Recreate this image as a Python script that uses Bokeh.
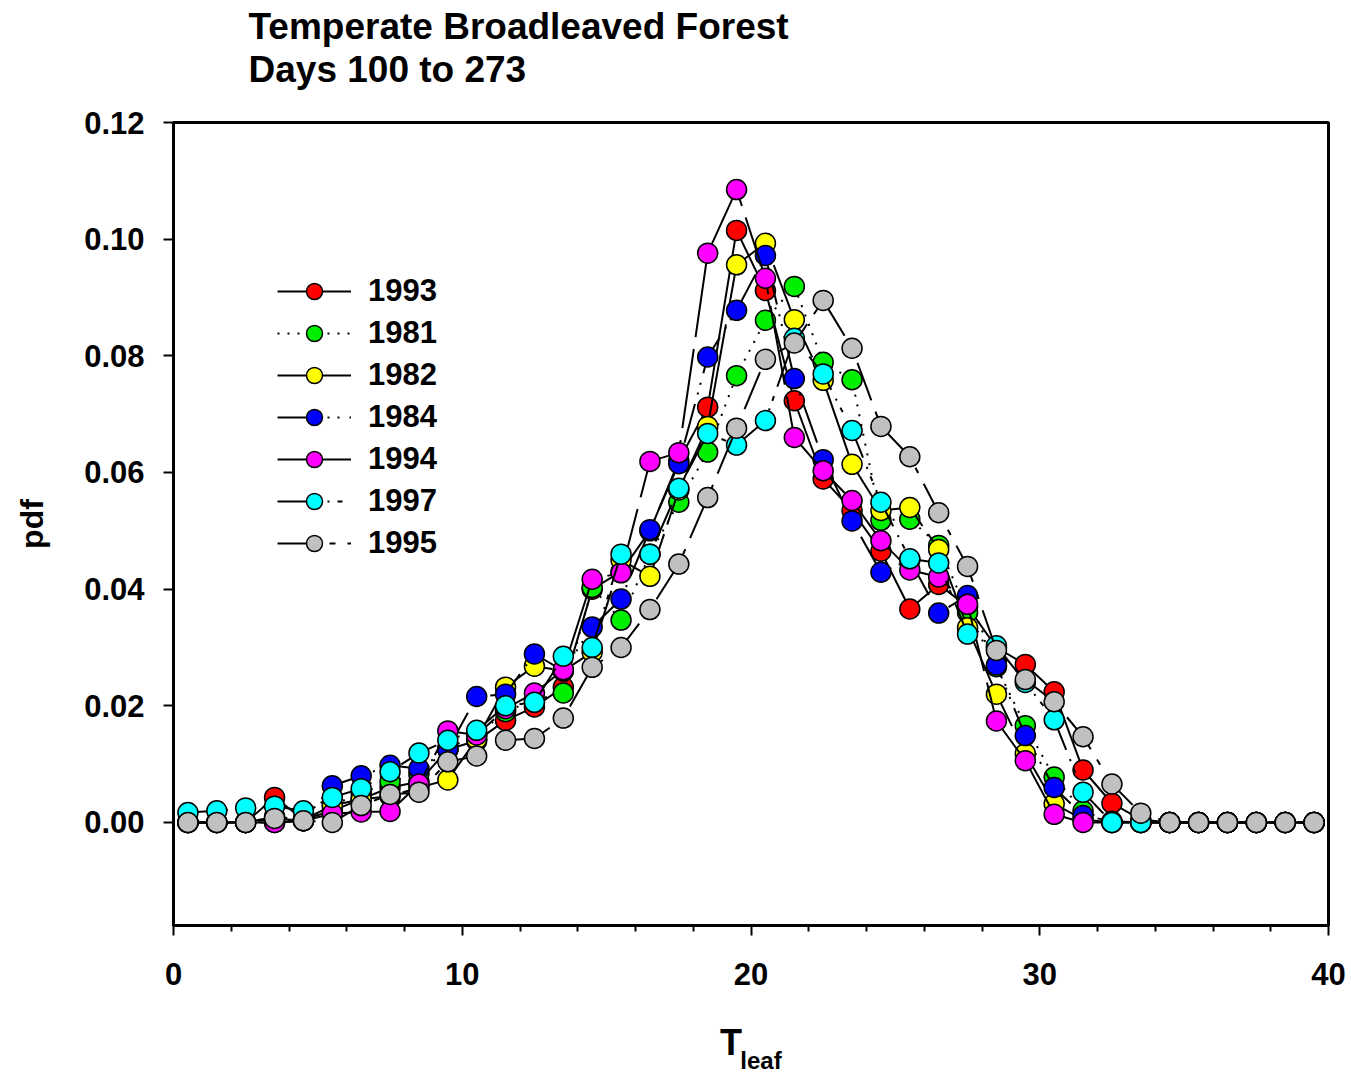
from bokeh.plotting import figure
from bokeh.models import Range1d, FixedTicker, Legend, LegendItem, Title, LinearAxis
from bokeh.embed import file_html
from bokeh.resources import INLINE

# bin centres of Tleaf
tleaf = [i + 0.5 for i in range(40)]

years = ["1993", "1981", "1982", "1984", "1994", "1997", "1995"]
colors = ["#ff0000", "#00ee00", "#ffff00", "#0000ff", "#ff00ff", "#00ffff", "#c0c0c0"]
dashes = ["solid", "2 8", "100 10", "40 10 2 8 2 10", "80 12", "40 10 2 8 5 10", "40 12 6 12"]

pdf_1993 = [0, 0, 0, 0.0043, 0.0005, 0.002, 0.004, 0.006, 0.007, 0.0125,
            0.014, 0.0175, 0.0198, 0.0232, 0.040, 0.043, 0.050, 0.062, 0.0712, 0.1015,
            0.0912, 0.0723, 0.0589, 0.0535, 0.0465, 0.0366, 0.0408, 0.037, 0.030, 0.0271,
            0.0224, 0.009, 0.0033, 0.0005, 0, 0, 0, 0, 0, 0]
pdf_1981 = [0, 0, 0, 0.0005, 0.0003, 0.003, 0.005, 0.007, 0.0084, 0.0127,
            0.015, 0.019, 0.021, 0.0222, 0.0403, 0.0347, 0.046, 0.0549, 0.0635, 0.0766,
            0.0861, 0.0919, 0.0789, 0.0759, 0.0518, 0.052, 0.0475, 0.036, 0.0267, 0.0166,
            0.0078, 0.002, 0, 0, 0, 0, 0, 0, 0, 0]
pdf_1982 = [0, 0, 0, 0.001, 0.0005, 0.0029, 0.004, 0.0045, 0.006, 0.0073,
            0.0143, 0.0232, 0.0268, 0.026, 0.0292, 0.045, 0.0422, 0.057, 0.0679, 0.0956,
            0.0993, 0.0862, 0.0758, 0.0614, 0.0535, 0.054, 0.0468, 0.0334, 0.022, 0.0118,
            0.0032, 0.0005, 0, 0, 0, 0, 0, 0, 0, 0]
pdf_1984 = [0, 0, 0, 0, 0.0003, 0.0063, 0.008, 0.0098, 0.0092, 0.0125,
            0.0216, 0.022, 0.0289, 0.026, 0.0335, 0.0383, 0.0502, 0.0615, 0.0798, 0.0878,
            0.0972, 0.0761, 0.0622, 0.0517, 0.0429, 0.045, 0.0359, 0.0389, 0.027, 0.0149,
            0.006, 0.0012, 0.0002, 0, 0, 0, 0, 0, 0, 0]
pdf_1994 = [0, 0, 0, 0, 0.0003, 0.0015, 0.0018, 0.0019, 0.0066, 0.0157,
            0.015, 0.0195, 0.0222, 0.0262, 0.0417, 0.0428, 0.0619, 0.0634, 0.0976, 0.1085,
            0.0933, 0.066, 0.0603, 0.0552, 0.0483, 0.0433, 0.0421, 0.0374, 0.0174, 0.0106,
            0.0014, 0, 0, 0, 0, 0, 0, 0, 0, 0]
pdf_1997 = [0.0017, 0.002, 0.0025, 0.0028, 0.002, 0.0043, 0.0058, 0.0087, 0.0119, 0.0141,
            0.0158, 0.020, 0.0206, 0.0285, 0.030, 0.046, 0.046, 0.0573, 0.0667, 0.0647,
            0.0689, 0.083, 0.0769, 0.0672, 0.0549, 0.0452, 0.0445, 0.0323, 0.0303, 0.024,
            0.0176, 0.0052, 0, 0, 0, 0, 0, 0, 0, 0]
pdf_1995 = [0, 0, 0, 0.0007, 0.0003, 0, 0.0029, 0.0048, 0.0052, 0.0104,
            0.0114, 0.0141, 0.0144, 0.0179, 0.0266, 0.030, 0.0365, 0.0443, 0.0557, 0.0676,
            0.0794, 0.0822, 0.0895, 0.0813, 0.0679, 0.0627, 0.0531, 0.0439, 0.0295, 0.0245,
            0.0207, 0.0147, 0.0066, 0.0016, 0, 0, 0, 0, 0, 0]

series = [pdf_1993, pdf_1981, pdf_1982, pdf_1984, pdf_1994, pdf_1997, pdf_1995]

x_ticks = [0, 10, 20, 30, 40]
x_minor = [2, 4, 6, 8, 12, 14, 16, 18, 22, 24, 26, 28, 32, 34, 36, 38]
y_ticks = [0.0, 0.02, 0.04, 0.06, 0.08, 0.10, 0.12]

FONT = "Liberation Sans"
NB = "\u00a0"

p = figure(width=1351, height=1076, output_backend="svg", toolbar_location=None,
           x_range=Range1d(0, 40), y_range=Range1d(-0.01766, 0.12),
           min_border_left=173, min_border_right=23, min_border_top=122, min_border_bottom=151)
p.background_fill_color = "white"
p.border_fill_color = "white"
p.xgrid.visible = False
p.ygrid.visible = False
p.outline_line_color = "black"
p.outline_line_width = 3

items = []
for yr, col, dash, vals in zip(years, colors, dashes, series):
    lr = p.line(tleaf, vals, line_color="black", line_width=2, line_dash=dash)
    sr = p.scatter(tleaf, vals, size=20, fill_color=col, line_color="black", line_width=1.5)
    items.append(LegendItem(label=yr, renderers=[lr, sr]))

legend = Legend(items=items, location=(104, 362), background_fill_alpha=0,
                border_line_color=None, glyph_width=74, glyph_height=40, label_height=40,
                spacing=2, padding=0, margin=0, label_standoff=17,
                label_text_font_size="31px", label_text_font_style="bold",
                label_text_font=FONT, label_text_color="black")
p.add_layout(legend, "center")

# axes
p.xaxis.ticker = FixedTicker(ticks=x_ticks, minor_ticks=x_minor)
p.yaxis.ticker = FixedTicker(ticks=y_ticks)
p.yaxis.major_label_overrides = {t: f"{t:.2f}" for t in y_ticks}
for ax in (p.xaxis[0], p.yaxis[0]):
    ax.axis_line_width = 3
    ax.axis_line_color = "black"
    ax.major_tick_line_width = 2
    ax.major_tick_in = 0
    ax.major_tick_out = 10
    ax.minor_tick_line_width = 2
    ax.minor_tick_in = 0
    ax.minor_tick_out = 6
    ax.major_label_text_font = FONT
    ax.major_label_text_font_style = "bold"
    ax.major_label_text_font_size = "31px"
    ax.major_label_text_color = "black"
    ax.axis_label_text_font = FONT
    ax.axis_label_text_font_style = "bold"
    ax.axis_label_text_color = "black"
p.yaxis.minor_tick_line_color = None
p.xaxis.major_label_standoff = 27
p.yaxis.major_label_standoff = 19
p.yaxis.axis_label = "pdf"
p.yaxis.axis_label_text_font_size = "32px"
p.yaxis.axis_label_standoff = 31

# x-axis label "T" with subscript "leaf"
p.xaxis.axis_label = "T" + NB * 4
p.xaxis.axis_label_text_font_size = "36px"
p.xaxis.axis_label_standoff = 34
sub_axis = LinearAxis(ticker=FixedTicker(ticks=[]), axis_label=NB * 3 + "leaf",
                      axis_line_color=None, major_tick_line_color=None, minor_tick_line_color=None,
                      major_tick_out=0, minor_tick_out=0, major_tick_in=0, minor_tick_in=0,
                      major_label_standoff=0, axis_label_standoff=-19,
                      axis_label_text_font=FONT, axis_label_text_font_style="bold",
                      axis_label_text_font_size="24px", axis_label_text_color="black")
p.add_layout(sub_axis, "below")

# title: spacer (innermost) then the two-line title
p.add_layout(Title(text=NB, text_font_size="10px", standoff=19), "above")
p.add_layout(Title(text="Temperate Broadleaved Forest\nDays 100 to 273", text_font=FONT,
                   text_font_style="bold", text_color="black", text_font_size="37px",
                   text_line_height=1.05, align="left", offset=75, standoff=0), "above")

open("out.html", "w").write(file_html(p, INLINE))
